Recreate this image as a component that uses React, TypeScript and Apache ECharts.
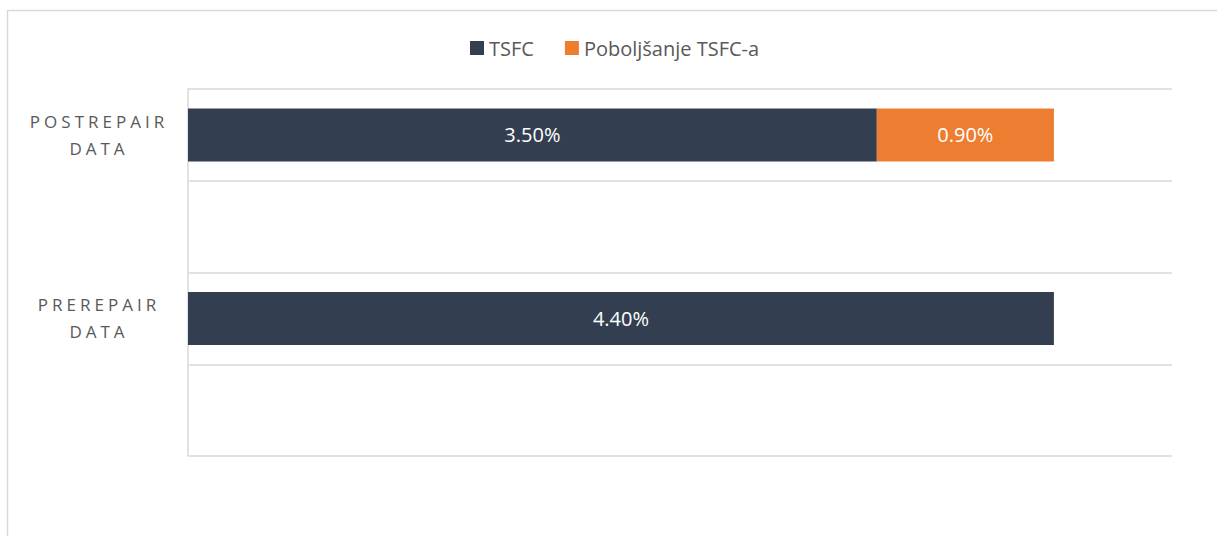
import React, { useEffect, useRef } from "react";
import * as echarts from "echarts";

const categories = ["", "PREREPAIR DATA", "", "POSTREPAIR DATA"];
const seriesNames = ["TSFC", "Poboljšanje TSFC-a"];
const tsfcValues = [null, 4.4, null, 3.5];
const improvementValues = [null, null, null, 0.9];
const valueAxisMax = 5;

const FONT = "'Open Sans', 'Noto Sans', sans-serif";

export default function App() {
  const ref = useRef<HTMLDivElement>(null);

  useEffect(() => {
    document.body.style.margin = "0";
    const chart = echarts.init(ref.current!, null, { renderer: "svg" });

    const labelStyle = {
      show: true,
      position: "inside",
      color: "#ffffff",
      fontFamily: FONT,
      fontSize: 20,
      formatter: (p: any) => (p.value == null ? "" : Number(p.value).toFixed(2) + "%"),
    };

    chart.setOption({
      animation: false,
      backgroundColor: "#ffffff",
      graphic: [
        {
          type: "rect",
          shape: { x: 7.5, y: 10.5, width: 1400, height: 700 },
          style: { fill: "none", stroke: "#d9d9d9", lineWidth: 1.5 },
          silent: true,
          z: -10,
        },
      ],
      legend: {
        left: 465,
        top: 33,
        icon: "rect",
        itemWidth: 14,
        itemHeight: 14,
        itemGap: 31,
        textStyle: { color: "#595959", fontFamily: FONT, fontSize: 20 },
        data: seriesNames,
      },
      grid: { left: 188, top: 89, right: 45, bottom: 80, containLabel: false },
      xAxis: {
        type: "value",
        min: 0,
        max: valueAxisMax,
        axisLabel: { show: false },
        axisLine: { show: false },
        axisTick: { show: false },
        splitLine: { show: false },
      },
      yAxis: {
        type: "category",
        data: categories,
        axisLine: { show: true, lineStyle: { color: "#d9d9d9", width: 1.5 } },
        axisTick: { show: false },
        splitLine: { show: true, lineStyle: { color: "#d9d9d9", width: 1.5 } },
        axisLabel: {
          color: "#595959",
          fontFamily: FONT,
          fontSize: 17,
          lineHeight: 27,
          align: "center",
          margin: 89,
          formatter: (v: string) => v.split(" ").join("\n"),
        },
      },
      series: [
        {
          name: seriesNames[0],
          type: "bar",
          stack: "total",
          barWidth: 53,
          itemStyle: { color: "#333f50" },
          label: labelStyle,
          data: tsfcValues,
        },
        {
          name: seriesNames[1],
          type: "bar",
          stack: "total",
          barWidth: 53,
          itemStyle: { color: "#ed7d31" },
          label: labelStyle,
          data: improvementValues,
        },
      ],
    });

    const applySpacing = () => {
      const texts = ref.current?.querySelectorAll("text") || [];
      texts.forEach((t: any) => {
        const s = (t.textContent || "").trim();
        if (/^(POSTREPAIR|PREREPAIR|DATA)$/.test(s)) {
          t.setAttribute("letter-spacing", "4");
        }
      });
    };
    applySpacing();
    chart.on("finished", applySpacing);

    return () => {
      chart.dispose();
    };
  }, []);

  return <div ref={ref} style={{ width: 1217, height: 536 }} />;
}
